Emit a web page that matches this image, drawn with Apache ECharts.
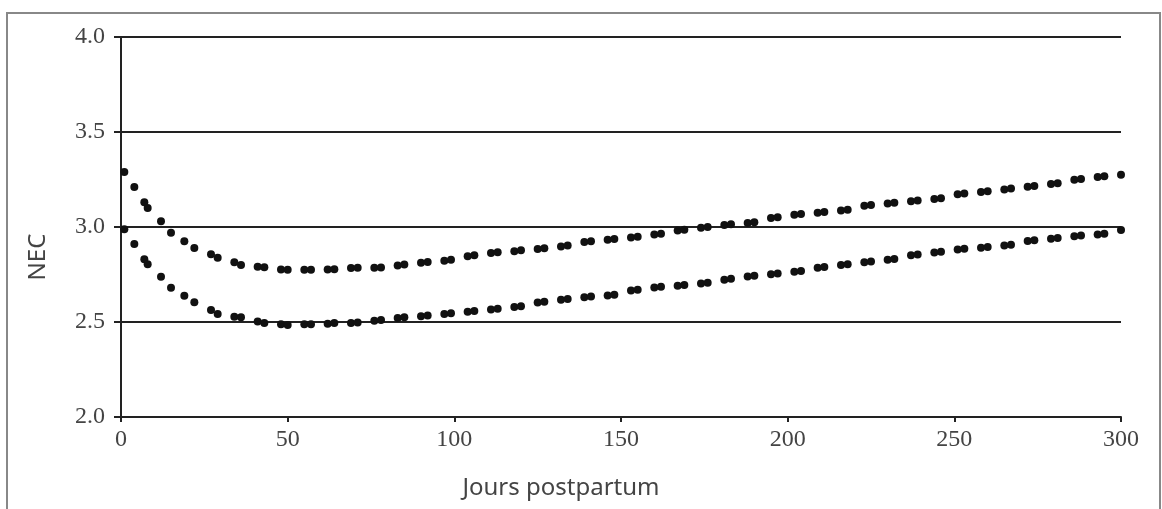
<!DOCTYPE html>
<html>
<head>
<meta charset="utf-8">
<script src="https://cdn.jsdelivr.net/npm/echarts@6/dist/echarts.min.js"></script>
<style>
  html, body { margin: 0; padding: 0; background: #fff; }
  #main { width: 1162px; height: 509px; }
</style>
</head>
<body>
<div id="main"></div>
<script>
// jours postpartum
var jours = [1, 4, 7, 8, 12, 15, 19, 22, 27, 29, 34, 36, 41, 43, 48, 50, 55, 57, 62, 64,
  69, 71, 76, 78, 83, 85, 90, 92, 97, 99, 104, 106, 111, 113, 118, 120, 125, 127, 132, 134,
  139, 141, 146, 148, 153, 155, 160, 162, 167, 169, 174, 176, 181, 183, 188, 190, 195, 197,
  202, 204, 209, 211, 216, 218, 223, 225, 230, 232, 237, 239, 244, 246, 251, 253, 258, 260,
  265, 267, 272, 274, 279, 281, 286, 288, 293, 295, 300];

// courbe haute
var necHaut = [3.29, 3.21, 3.13, 3.10, 3.03, 2.97, 2.925, 2.89, 2.856, 2.838, 2.814, 2.80,
  2.791, 2.788, 2.776, 2.775, 2.775, 2.775, 2.776, 2.778, 2.784, 2.786, 2.785, 2.787, 2.798,
  2.802, 2.812, 2.816, 2.823, 2.827, 2.846, 2.851, 2.863, 2.867, 2.873, 2.877, 2.884, 2.888,
  2.898, 2.902, 2.921, 2.925, 2.933, 2.937, 2.945, 2.949, 2.961, 2.965, 2.982, 2.986, 2.996,
  3.0, 3.01, 3.014, 3.021, 3.025, 3.047, 3.051, 3.065, 3.069, 3.075, 3.079, 3.087, 3.091,
  3.112, 3.116, 3.124, 3.128, 3.136, 3.14, 3.147, 3.151, 3.172, 3.176, 3.184, 3.188, 3.198,
  3.202, 3.212, 3.216, 3.226, 3.23, 3.249, 3.253, 3.263, 3.267, 3.275];

// courbe basse
var necBas = [2.988, 2.911, 2.83, 2.804, 2.738, 2.68, 2.638, 2.604, 2.563, 2.542, 2.528,
  2.525, 2.502, 2.495, 2.488, 2.484, 2.488, 2.488, 2.491, 2.495, 2.495, 2.497, 2.507, 2.511,
  2.521, 2.525, 2.53, 2.534, 2.542, 2.546, 2.554, 2.558, 2.566, 2.57, 2.579, 2.583, 2.602,
  2.606, 2.617, 2.621, 2.63, 2.634, 2.64, 2.644, 2.666, 2.67, 2.681, 2.685, 2.691, 2.695,
  2.703, 2.707, 2.723, 2.727, 2.74, 2.744, 2.751, 2.755, 2.765, 2.769, 2.786, 2.79, 2.8,
  2.804, 2.814, 2.818, 2.828, 2.832, 2.851, 2.855, 2.866, 2.87, 2.881, 2.885, 2.891, 2.895,
  2.903, 2.907, 2.926, 2.93, 2.938, 2.942, 2.951, 2.955, 2.961, 2.965, 2.984];

var yTicks = [2.0, 2.5, 3.0, 3.5, 4.0];

function paires(vals) {
  return jours.map(function (j, i) { return [j, vals[i]]; });
}

var myChart = echarts.init(document.getElementById('main'));
var axeCouleur = '#222';
var serif = '"Liberation Serif", "DejaVu Serif", serif';

var option = {
  backgroundColor: '#fff',
  animation: false,
  grid: { left: 121, right: 41, top: 37, bottom: 92 },
  xAxis: {
    type: 'value',
    min: 0, max: 300, interval: 50,
    axisLine: { show: true, lineStyle: { color: axeCouleur, width: 2 } },
    axisTick: { show: true, length: 5, lineStyle: { color: axeCouleur, width: 2 } },
    axisLabel: { color: '#444', fontFamily: serif, fontSize: 24, margin: 11 },
    splitLine: { show: false }
  },
  yAxis: {
    type: 'value',
    min: yTicks[0], max: yTicks[yTicks.length - 1], interval: 0.5,
    axisLine: { show: true, lineStyle: { color: axeCouleur, width: 2 } },
    axisTick: { show: true, length: 7, lineStyle: { color: axeCouleur, width: 2 } },
    axisLabel: {
      color: '#444', fontFamily: serif, fontSize: 24, margin: 16,
      formatter: function (v) { return v.toFixed(1); }
    },
    splitLine: { show: true, lineStyle: { color: axeCouleur, width: 2 } }
  },
  series: [
    {
      type: 'scatter', data: paires(necHaut), symbolSize: 8,
      itemStyle: { color: '#111', opacity: 1 }
    },
    {
      type: 'scatter', data: paires(necBas), symbolSize: 8,
      itemStyle: { color: '#111', opacity: 1 }
    }
  ],
  graphic: [
    // cadre de la figure
    { type: 'polyline', shape: { points: [[7, 509], [7, 13], [1160, 13], [1160, 509]] },
      style: { stroke: '#888', lineWidth: 2, fill: null } },
    { type: 'text', x: 38, y: 257, rotation: Math.PI / 2,
      style: { text: 'NEC', font: '24px "Noto Sans", sans-serif', fill: '#444',
        align: 'center', verticalAlign: 'middle' } },
    { type: 'text', x: 561, y: 488,
      style: { text: 'Jours postpartum', font: '24px "Noto Sans", sans-serif', fill: '#444',
        align: 'center', verticalAlign: 'middle' } }
  ]
};

myChart.setOption(option);
</script>
</body>
</html>
